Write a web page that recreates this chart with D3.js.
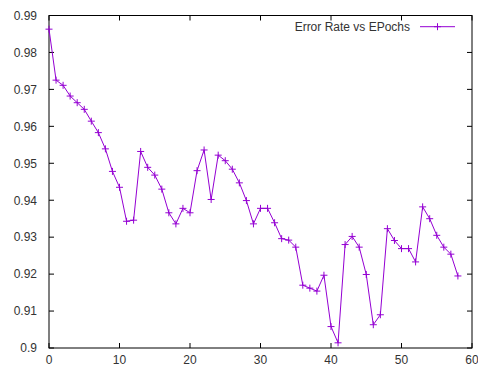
<!DOCTYPE html>
<html><head><meta charset="utf-8">
<script src="https://cdn.jsdelivr.net/npm/d3@7"></script>
<style>body{margin:0;background:#fff}svg{display:block}text{font-family:"Liberation Sans",Arial,sans-serif}</style>
</head><body>
<script>
const epochs = d3.range(0, 59);
const errorRate = [0.9863,0.9725,0.9711,0.9682,0.9664,0.9646,0.9614,0.9583,0.9539,0.9478,
0.9435,0.9343,0.9346,0.9532,0.9489,0.9468,0.9430,0.9366,0.9336,0.9378,
0.9366,0.9480,0.9536,0.9402,0.9522,0.9507,0.9484,0.9447,0.9399,0.9336,
0.9378,0.9378,0.9339,0.9296,0.9292,0.9273,0.9170,0.9162,0.9154,0.9197,
0.9058,0.9014,0.9280,0.9302,0.9273,0.9199,0.9063,0.9090,0.9323,0.9291,
0.9269,0.9269,0.9233,0.9382,0.9350,0.9305,0.9273,0.9254,0.9195];
const xTicks = [0,10,20,30,40,50,60];
const yTicks = [0.9,0.91,0.92,0.93,0.94,0.95,0.96,0.97,0.98,0.99];
const seriesLabel = "Error Rate vs EPochs";

const W=478,H=367, L=49, R=472, T=15.5, B=348;
const color="#9400d3";
const svg=d3.select("body").append("svg").attr("width",W).attr("height",H);
const x=d3.scaleLinear().domain([0,60]).range([L,R]);
const y=d3.scaleLinear().domain([0.9,0.99]).range([B,T]);
const tick=5;

// border
svg.append("rect").attr("x",L).attr("y",T).attr("width",R-L).attr("height",B-T)
  .attr("fill","none").attr("stroke","#000").attr("stroke-width",1);

const g=svg.append("g");
// x ticks bottom/top
xTicks.forEach(v=>{
  g.append("line").attr("x1",x(v)).attr("x2",x(v)).attr("y1",B).attr("y2",B-tick).attr("stroke","#000");
  g.append("line").attr("x1",x(v)).attr("x2",x(v)).attr("y1",T).attr("y2",T+tick).attr("stroke","#000");
  g.append("text").attr("x",x(v)).attr("y",364).attr("text-anchor","middle")
    .attr("font-size",12).attr("fill","#333").text(v);
});
yTicks.forEach(v=>{
  g.append("line").attr("x1",L).attr("x2",L+tick).attr("y1",y(v)).attr("y2",y(v)).attr("stroke","#000");
  g.append("line").attr("x1",R).attr("x2",R-tick).attr("y1",y(v)).attr("y2",y(v)).attr("stroke","#000");
  g.append("text").attr("x",37).attr("y",y(v)).attr("dy","0.36em").attr("text-anchor","end")
    .attr("font-size",12).attr("fill","#333").text(d3.format("~g")(v));
});

const data=epochs.map((e,i)=>[e,errorRate[i]]);
svg.append("path").datum(data).attr("fill","none").attr("stroke",color).attr("stroke-width",1)
  .attr("d",d3.line().x(d=>x(d[0])).y(d=>y(d[1])));
const plus=(sel,cx,cy)=>{
  sel.append("path").attr("d",`M${cx-3.5},${cy}H${cx+3.5}M${cx},${cy-3.5}V${cy+3.5}`)
    .attr("stroke",color).attr("stroke-width",1).attr("fill","none");
};
const mg=svg.append("g");
data.forEach(d=>plus(mg,x(d[0]),y(d[1])));

// legend
svg.append("text").attr("x",410).attr("y",26.7).attr("dy","0.36em").attr("text-anchor","end")
  .attr("font-size",12).attr("fill","#333").text(seriesLabel);
svg.append("line").attr("x1",420).attr("x2",455).attr("y1",26.7).attr("y2",26.7).attr("stroke",color);
plus(svg,437.5,26.7);
</script>
</body></html>
